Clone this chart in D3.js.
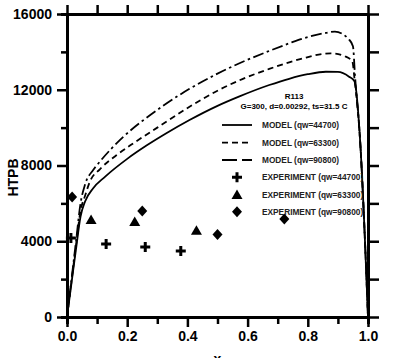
<!DOCTYPE html>
<html>
<head>
<meta charset="utf-8">
<script src="https://cdn.jsdelivr.net/npm/d3@7"></script>
<style>
  body { margin: 0; background: #fff; }
  svg { display: block; font-family: "Liberation Sans", Arial, sans-serif; }
  .axis path, .axis line { stroke: #000; }
  .axis text { font-size: 14px; font-weight: bold; fill: #000; }
</style>
</head>
<body>
<svg width="401" height="358"></svg>
<script>
// data
var modelX1 = [0, 0.015, 0.03, 0.045, 0.06, 0.087, 0.126, 0.2, 0.264, 0.33, 0.407, 0.5, 0.573, 0.672, 0.738, 0.8, 0.86, 0.9, 0.937, 0.955, 0.975, 0.99, 1.0];
var modelY1 = [0, 1800, 3600, 5300, 6100, 6800, 7400, 8350, 9050, 9700, 10400, 11150, 11650, 12250, 12580, 12820, 12950, 12940, 12690, 12450, 9000, 4000, 0];

var modelX2 = [0, 0.015, 0.03, 0.045, 0.06, 0.076, 0.109, 0.165, 0.22, 0.3, 0.407, 0.5, 0.573, 0.672, 0.738, 0.782, 0.876, 0.926, 0.948, 0.955, 0.975, 0.99, 1.0];
var modelY2 = [0, 1900, 3800, 5600, 6400, 7150, 7800, 8550, 9170, 10000, 11100, 11950, 12500, 13100, 13450, 13650, 13925, 13750, 13485, 12600, 9000, 4000, 0];

var modelX3 = [0, 0.015, 0.03, 0.045, 0.06, 0.087, 0.109, 0.186, 0.25, 0.319, 0.407, 0.5, 0.573, 0.672, 0.738, 0.782, 0.86, 0.89, 0.937, 0.95, 0.957, 0.975, 0.99, 1.0];
var modelY3 = [0, 2000, 4000, 6000, 7000, 7762, 8201, 9500, 10350, 11150, 12050, 12850, 13400, 14050, 14450, 14700, 15000, 15070, 14650, 14300, 12700, 9000, 4000, 0];

var expX1 = [0.013, 0.13, 0.26, 0.378];
var expY1 = [4170, 3850, 3700, 3490];
var expX2 = [0.08, 0.225, 0.43];
var expY2 = [5120, 5020, 4560];
var expX3 = [0.017, 0.25, 0.5, 0.722];
var expY3 = [6340, 5600, 4360, 5170];

var xTicks = [0, 0.2, 0.4, 0.6, 0.8, 1.0];
var xMinor = [0.1, 0.3, 0.5, 0.7, 0.9];
var yTicks = [0, 4000, 8000, 12000, 16000];
var yMinor = [2000, 6000, 10000, 14000];

var legendLabels = ["MODEL (qw=44700)", "MODEL (qw=63300)", "MODEL (qw=90800)",
                    "EXPERIMENT (qw=44700)", "EXPERIMENT (qw=63300)", "EXPERIMENT (qw=90800)"];

var svg = d3.select("svg"),
    margin = {top: 14, right: 33, bottom: 41, left: 67},
    width = +svg.attr("width") - margin.left - margin.right,
    height = +svg.attr("height") - margin.top - margin.bottom;

var x = d3.scaleLinear().domain([0, 1]).range([0, width]);
var y = d3.scaleLinear().domain([0, 16000]).range([height, 0]);

var g = svg.append("g")
    .attr("transform", "translate(" + margin.left + "," + margin.top + ")");

// curves
var line = d3.line()
    .curve(d3.curveMonotoneX)
    .x(function(d) { return x(d[0]); })
    .y(function(d) { return y(d[1]); });

var models = [
  {xs: modelX1, ys: modelY1, dash: null},
  {xs: modelX2, ys: modelY2, dash: "6,4"},
  {xs: modelX3, ys: modelY3, dash: "11,3.5,2.5,3.5"}
];

models.forEach(function(m) {
  var pts = m.xs.map(function(v, i) { return [v, m.ys[i]]; });
  g.append("path")
    .datum(pts)
    .attr("fill", "none")
    .attr("stroke", "#000")
    .attr("stroke-width", 1.8)
    .attr("stroke-dasharray", m.dash)
    .attr("d", line);
});

// markers
function drawMarker(sel, kind, cx, cy) {
  if (kind === 0) {
    sel.append("path")
      .attr("d", "M" + (cx - 5) + "," + cy + "H" + (cx + 5) + "M" + cx + "," + (cy - 5) + "V" + (cy + 5))
      .attr("stroke", "#000").attr("stroke-width", 3).attr("fill", "none");
  } else if (kind === 1) {
    sel.append("path")
      .attr("d", "M" + cx + "," + (cy - 5.5) + "L" + (cx + 5.5) + "," + (cy + 4) + "L" + (cx - 5.5) + "," + (cy + 4) + "Z")
      .attr("fill", "#000");
  } else {
    sel.append("path")
      .attr("d", "M" + cx + "," + (cy - 5.5) + "L" + (cx + 5) + "," + cy + "L" + cx + "," + (cy + 5.5) + "L" + (cx - 5) + "," + cy + "Z")
      .attr("fill", "#000");
  }
}

[[expX1, expY1], [expX2, expY2], [expX3, expY3]].forEach(function(s, k) {
  s[0].forEach(function(v, i) {
    drawMarker(g, k, x(v), y(s[1][i]));
  });
});

// axes
function styleAxis(a) {
  a.select(".domain").attr("stroke-width", 3);
  a.selectAll(".tick line").attr("stroke-width", 2.5);
}

g.append("g").attr("class", "axis")
  .attr("transform", "translate(0," + height + ")")
  .call(d3.axisBottom(x).tickValues(xTicks).tickSize(10).tickSizeOuter(0).tickPadding(4)
        .tickFormat(d3.format(".1f")))
  .call(styleAxis);
g.append("g").attr("class", "axis")
  .attr("transform", "translate(0," + height + ")")
  .call(d3.axisBottom(x).tickValues(xMinor).tickSize(7).tickFormat(""))
  .call(styleAxis);

g.append("g").attr("class", "axis")
  .call(d3.axisLeft(y).tickValues(yTicks).tickSize(10).tickSizeOuter(0).tickPadding(5)
        .tickFormat(d3.format("d")))
  .call(styleAxis);
g.append("g").attr("class", "axis")
  .call(d3.axisLeft(y).tickValues(yMinor).tickSize(6).tickFormat(""))
  .call(styleAxis);

g.append("g").attr("class", "axis")
  .call(d3.axisTop(x).tickValues(xTicks.concat(xMinor)).tickSize(9).tickSizeOuter(0).tickFormat(""))
  .call(styleAxis);

g.append("g").attr("class", "axis")
  .attr("transform", "translate(" + width + ",0)")
  .call(d3.axisRight(y).tickValues(yTicks.concat(yMinor)).tickSize(11).tickSizeOuter(0).tickFormat(""))
  .call(styleAxis);

// axis titles
svg.append("text")
  .attr("transform", "translate(18," + (margin.top + height / 2 + 12) + ") rotate(-90)")
  .attr("text-anchor", "middle")
  .style("font-size", "14px").style("font-weight", "bold")
  .text("HTPB");

// x title sits partly below the frame, as in the source
svg.append("text")
  .attr("x", margin.left + width / 2)
  .attr("y", 364)
  .attr("text-anchor", "middle")
  .style("font-size", "14px").style("font-weight", "bold")
  .text("x");

// annotation
svg.append("text")
  .attr("x", 294).attr("y", 99)
  .attr("text-anchor", "middle")
  .style("font-size", "8px").style("font-weight", "bold")
  .text("R113");
svg.append("text")
  .attr("x", 294).attr("y", 108.5)
  .attr("text-anchor", "middle")
  .style("font-size", "8px").style("font-weight", "bold")
  .text("G=300, d=0.00292, ts=31.5 C");

// legend
var legRows = [125, 142.7, 160, 177.3, 195, 211.7];
var legDash = [null, "6,4", "15,5"];
var leg = svg.append("g");
legendLabels.forEach(function(lab, i) {
  var ly = legRows[i];
  if (i < 3) {
    leg.append("line")
      .attr("x1", 222).attr("x2", 252).attr("y1", ly).attr("y2", ly)
      .attr("stroke", "#000").attr("stroke-width", 1.8)
      .attr("stroke-dasharray", legDash[i]);
  } else {
    drawMarker(leg, i - 3, 237, ly);
  }
  leg.append("text")
    .attr("x", 262).attr("y", ly + 3)
    .style("font-size", "8.3px").style("font-weight", "bold").style("fill", "#222")
    .text(lab);
});
</script>
</body>
</html>
